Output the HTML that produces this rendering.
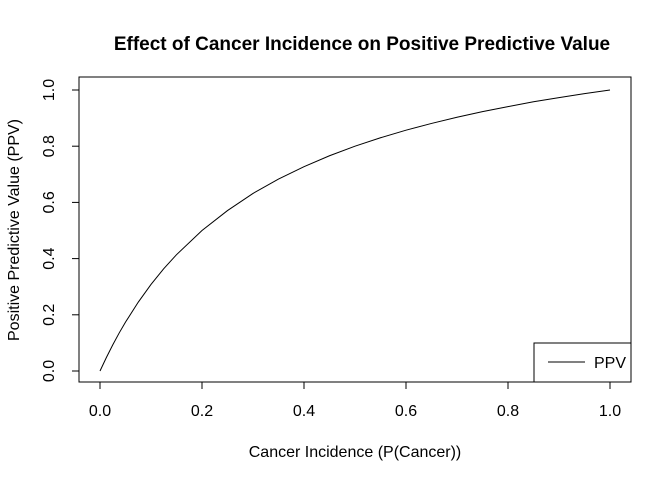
<!DOCTYPE html>
<html><head><meta charset="utf-8">
<style>
html,body{margin:0;padding:0;background:#fff;}
svg text{font-family:"Liberation Sans",sans-serif;fill:#000;}
</style></head>
<body>
<svg id="chart" width="672" height="480" xmlns="http://www.w3.org/2000/svg">
<text x="362" y="50" font-size="19" font-weight="bold" text-anchor="middle">Effect of Cancer Incidence on Positive Predictive Value</text>
<rect x="79" y="77" width="552" height="305" fill="none" stroke="#000" stroke-width="1"/>
<g id="xaxis"></g>
<g id="yaxis"></g>
<text x="355" y="457" font-size="16" text-anchor="middle">Cancer Incidence (P(Cancer))</text>
<text transform="translate(19,230) rotate(-90)" font-size="16" text-anchor="middle">Positive Predictive Value (PPV)</text>
<path id="curve" fill="none" stroke="#000" stroke-width="1"/>
<g>
<rect x="534" y="343" width="97" height="39" fill="#fff" stroke="#000" stroke-width="1"/>
<line x1="548" y1="362" x2="585" y2="362" stroke="#000" stroke-width="1"/>
<text x="594" y="368" font-size="16">PPV</text>
</g>
</svg>
<script>
const incidence = [0,0.0125,0.025,0.0375,0.05,0.075,0.1,0.125,0.15,0.2,0.25,0.3,0.35,0.4,0.45,0.5,0.55,0.6,0.65,0.7,0.75,0.8,0.85,0.9,0.95,1];
const ppv = [0,0.048,0.093,0.135,0.174,0.245,0.308,0.364,0.414,0.5,0.571,0.632,0.683,0.727,0.766,0.8,0.830,0.857,0.881,0.903,0.923,0.941,0.958,0.973,0.987,1];
const xTicks = [0,0.2,0.4,0.6,0.8,1.0];
const xTickLabels = ["0.0","0.2","0.4","0.6","0.8","1.0"];
const yTicks = [0,0.2,0.4,0.6,0.8,1.0];
const yTickLabels = ["0.0","0.2","0.4","0.6","0.8","1.0"];

const NS="http://www.w3.org/2000/svg";
const xs = v => 100 + v*510;
const ys = v => 371 - v*281;

let d = incidence.map((p,i)=>(i?"L":"M")+xs(p).toFixed(2)+","+ys(ppv[i]).toFixed(2)).join(" ");
document.getElementById("curve").setAttribute("d", d);

const xg=document.getElementById("xaxis");
const xl=document.createElementNS(NS,"line");
xl.setAttribute("x1",xs(xTicks[0]));xl.setAttribute("x2",xs(xTicks[xTicks.length-1]));
xl.setAttribute("y1",382);xl.setAttribute("y2",382);xl.setAttribute("stroke","#000");


xg.appendChild(xl);
xTicks.forEach((t,i)=>{
  const l=document.createElementNS(NS,"line");
  l.setAttribute("x1",xs(t));l.setAttribute("x2",xs(t));l.setAttribute("y1",382);l.setAttribute("y2",389);l.setAttribute("stroke","#000");
  
  
  xg.appendChild(l);
  const tx=document.createElementNS(NS,"text");
  tx.setAttribute("x",xs(t));tx.setAttribute("y",416);tx.setAttribute("font-size","16");tx.setAttribute("text-anchor","middle");
  tx.textContent=xTickLabels[i];
  
  
  xg.appendChild(tx);
});
const yg=document.getElementById("yaxis");
const yl=document.createElementNS(NS,"line");
yl.setAttribute("x1",79);yl.setAttribute("x2",79);
yl.setAttribute("y1",ys(yTicks[0]));yl.setAttribute("y2",ys(yTicks[yTicks.length-1]));yl.setAttribute("stroke","#000");


yg.appendChild(yl);
yTicks.forEach((t,i)=>{
  const l=document.createElementNS(NS,"line");
  l.setAttribute("x1",72);l.setAttribute("x2",79);l.setAttribute("y1",ys(t));l.setAttribute("y2",ys(t));l.setAttribute("stroke","#000");
  
  
  yg.appendChild(l);
  const tx=document.createElementNS(NS,"text");
  tx.setAttribute("transform","translate(54,"+ys(t)+") rotate(-90)");
  tx.setAttribute("font-size","16");tx.setAttribute("text-anchor","middle");
  tx.textContent=yTickLabels[i];
  
  
  yg.appendChild(tx);
});
</script>
</body></html>
